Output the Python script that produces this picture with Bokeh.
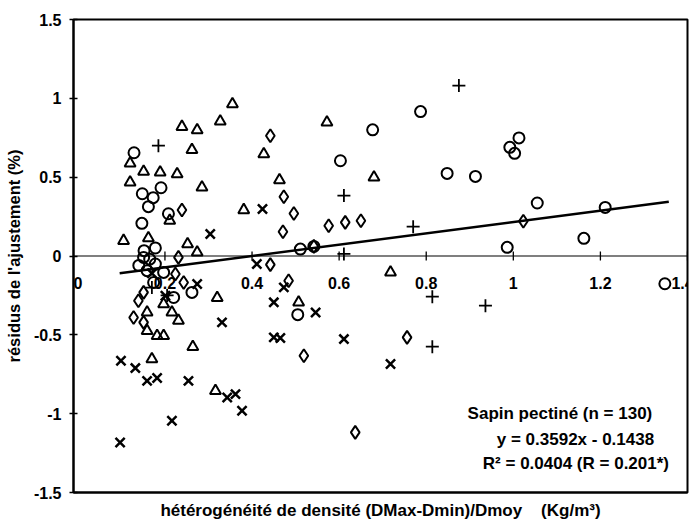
import math
from bokeh.plotting import figure
from bokeh.models import Range1d, FixedTicker, Span, Label
from bokeh.embed import file_html
from bokeh.resources import INLINE

# ---- data ----
circ_x = [0.129, 0.148, 0.162, 0.173, 0.191, 0.208, 0.147, 0.152, 0.178,
          0.151, 0.178, 0.159, 0.197, 0.174, 0.262, 0.220, 0.505,
          0.603, 0.677, 0.787, 0.848, 0.913, 0.992, 1.013, 1.003, 1.055,
          1.211, 1.162, 0.986, 1.348, 0.511, 0.542, 0.140, 0.165]
circ_y = [0.655, 0.395, 0.313, 0.370, 0.433, 0.268, 0.207, 0.034, 0.051,
          -0.009, -0.051, -0.093, -0.104, -0.168, -0.231, -0.263, -0.372,
          0.604, 0.800, 0.916, 0.524, 0.505, 0.689, 0.749, 0.651, 0.336,
          0.308, 0.112, 0.055, -0.176, 0.044, 0.061, -0.060, -0.020]

tri_x = [0.105, 0.120, 0.120, 0.151, 0.189, 0.228, 0.239, 0.274, 0.262, 0.285,
         0.327, 0.355, 0.162, 0.211, 0.252, 0.274, 0.381, 0.427, 0.463, 0.572,
         0.680, 0.197, 0.159, 0.216, 0.231, 0.159, 0.182, 0.197, 0.170, 0.264,
         0.320, 0.316, 0.507, 0.718]
tri_y = [0.097, 0.588, 0.467, 0.535, 0.530, 0.520, 0.820, 0.799, 0.673, 0.435,
         0.854, 0.964, 0.114, 0.224, 0.076, 0.023, 0.292, 0.647, 0.482, 0.848,
         0.499, -0.305, -0.358, -0.358, -0.410, -0.474, -0.506, -0.506, -0.654, -0.576,
         -0.266, -0.855, -0.294, -0.104]

diam_x = [0.239, 0.442, 0.473, 0.496, 0.471, 0.576, 0.614, 0.650, 1.023,
          0.231, 0.224, 0.243, 0.139, 0.151, 0.128, 0.151, 0.442, 0.484,
          0.519, 0.637, 0.756, 0.542]
diam_y = [0.292, 0.763, 0.376, 0.270, 0.154, 0.192, 0.213, 0.224, 0.220,
          -0.009, -0.114, -0.168, -0.284, -0.231, -0.390, -0.421, -0.055, -0.157,
          -0.633, -1.119, -0.516, 0.061]

xcr_x = [0.099, 0.132, 0.159, 0.182, 0.254, 0.216, 0.097, 0.331, 0.343, 0.362,
         0.377, 0.411, 0.473, 0.450, 0.546, 0.450, 0.465, 0.611, 0.718, 0.274,
         0.201, 0.304, 0.424, 0.170]
xcr_y = [-0.664, -0.711, -0.792, -0.774, -0.792, -1.045, -1.183, -0.421, -0.897, -0.876,
         -0.982, -0.051, -0.199, -0.294, -0.358, -0.516, -0.520, -0.527, -0.685, -0.178,
         -0.252, 0.140, 0.298, -0.110]

plus_x = [0.185, 0.611, 0.770, 0.875, 0.611, 0.814, 0.936, 0.814, 0.170, 0.205]
plus_y = [0.700, 0.383, 0.186, 1.081, 0.013, -0.258, -0.315, -0.575, -0.200, -0.250]

trend_x = [0.096, 1.357]
trend_y = [-0.109, 0.344]

x_ticks = [0, 0.2, 0.4, 0.6, 0.8, 1.0, 1.2, 1.4]
x_tick_labels = ["0", "0.2", "0.4", "0.6", "0.8", "1", "1.2", "1.4"]
y_ticks = [-1.5, -1.0, -0.5, 0.0, 0.5, 1.0, 1.5]
y_tick_labels = ["-1.5", "-1", "-0.5", "0", "0.5", "1", "1.5"]

note_lines = ["Sapin pectiné (n = 130)", "y = 0.3592x - 0.1438", "R\u00b2 = 0.0404 (R = 0.201*)"]
x_title = "hétérogénéité de densité (DMax-Dmin)/Dmoy\u00a0\u00a0\u00a0\u00a0(Kg/m\u00b3)"
y_title = "résidus de l'ajustement (%)"

FONT = "Liberation Sans"

p = figure(width=697, height=522, output_backend="svg", toolbar_location=None,
           x_range=Range1d(-0.01, 1.40), y_range=Range1d(-1.5, 1.5),
           min_border_left=73, min_border_right=10, min_border_top=19, min_border_bottom=30)
p.grid.visible = False
p.background_fill_color = "white"
p.border_fill_color = "white"
p.outline_line_color = "black"
p.outline_line_width = 2

# y axis
p.yaxis.ticker = FixedTicker(ticks=y_ticks)
p.yaxis.major_label_overrides = {t: s for t, s in zip(y_ticks, y_tick_labels)}
p.yaxis.minor_tick_line_color = None
p.yaxis.major_tick_in = 4
p.yaxis.major_tick_out = 4
p.yaxis.major_tick_line_width = 1.5
p.yaxis.major_tick_line_color = "black"
p.yaxis.major_label_standoff = 8
p.yaxis.major_label_text_font = FONT
p.yaxis.major_label_text_font_style = "bold"
p.yaxis.major_label_text_font_size = "16px"
p.yaxis.major_label_text_color = "black"
p.yaxis.axis_line_width = 2
p.yaxis.axis_line_color = "black"
p.yaxis.axis_label = y_title
p.yaxis.axis_label_text_font = FONT
p.yaxis.axis_label_text_font_style = "bold"
p.yaxis.axis_label_text_font_size = "16.5px"
p.yaxis.axis_label_text_color = "black"
p.yaxis.axis_label_standoff = 8

# bottom axis: line + title only
p.xaxis.ticker = FixedTicker(ticks=[])
p.xaxis.minor_tick_line_color = None
p.xaxis.major_tick_in = 0
p.xaxis.major_tick_out = 0
p.xaxis.major_label_standoff = 0
p.xaxis.major_label_text_font_size = "0px"
p.xaxis.axis_line_width = 2
p.xaxis.axis_line_color = "black"
p.xaxis.axis_label = x_title
p.xaxis.axis_label_text_font = FONT
p.xaxis.axis_label_text_font_style = "bold"
p.xaxis.axis_label_text_font_size = "17px"
p.xaxis.axis_label_text_color = "black"
p.xaxis.axis_label_standoff = 8

# zero line acting as the x axis, with its ticks and labels
p.add_layout(Span(location=0, dimension="width", line_color="black", line_width=1.2))
p.scatter(x_ticks[1:], [0] * (len(x_ticks) - 1), marker="dash", angle=math.pi / 2,
          size=9, line_color="black", line_width=1.3)
for t, s in zip(x_ticks, x_tick_labels):
    p.add_layout(Label(x=t, y=0, text=s, y_offset=-27, x_offset=(-5 if t == x_ticks[-1] else 0),
                       text_align="center", text_baseline="middle", text_font=FONT,
                       text_font_style="bold", text_font_size="16px", text_color="black"))

# points
kw = dict(fill_color=None, line_color="black", line_width=2)
p.scatter(circ_x, circ_y, marker="circle", size=11, **kw)
p.scatter(tri_x, tri_y, marker="triangle", size=11, **kw)
p.scatter(diam_x, diam_y, marker="diamond", size=13, **kw)
p.scatter(xcr_x, xcr_y, marker="x", size=13, line_color="black", line_width=2.5)
p.scatter(plus_x, plus_y, marker="cross", size=13, line_color="black", line_width=1.8)

# trend line
p.line(trend_x, trend_y, line_color="black", line_width=2.5)

# annotation
for txt, lx, ly in zip(note_lines, [0.895, 0.962, 0.930], [-1.00, -1.165, -1.318]):
    p.add_layout(Label(x=lx, y=ly, text=txt, text_font=FONT, text_font_style="bold",
                       text_font_size="17px", text_baseline="middle", text_color="black"))

open("out.html", "w").write(file_html(p, INLINE))
